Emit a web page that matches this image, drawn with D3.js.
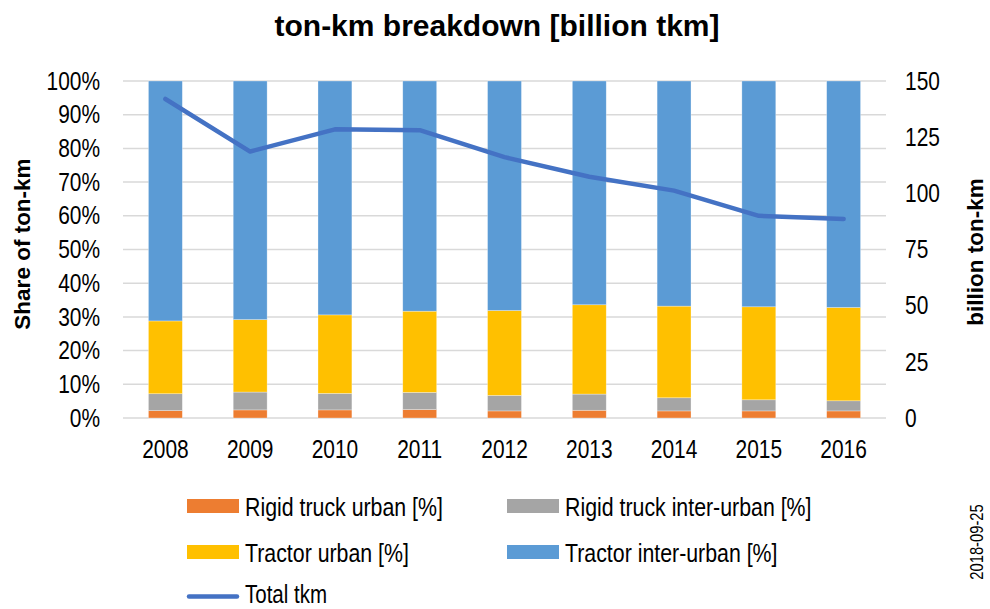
<!DOCTYPE html>
<html>
<head>
<meta charset="utf-8">
<script src="https://cdn.jsdelivr.net/npm/d3@7"></script>
<style>
  body { margin: 0; background: #fff; }
  svg text { fill: #000; }
</style>
</head>
<body>
<div id="chart"></div>
<script>
var years = ["2008", "2009", "2010", "2011", "2012", "2013", "2014", "2015", "2016"];

// shares in %
var rigidUrban      = [2.2, 2.4, 2.4, 2.5, 2.1, 2.3, 2.1, 2.1, 2.1];
var rigidInterUrban = [5.0, 5.3, 4.9, 5.1, 4.6, 4.8, 3.9, 3.3, 3.0];
var tractorUrban    = [21.6, 21.5, 23.3, 24.1, 25.2, 26.5, 27.2, 27.6, 27.7];
var tractorInter    = [71.2, 70.8, 69.4, 68.3, 68.1, 66.4, 66.8, 67.0, 67.2];

// billion tkm
var totalTkm = [142.0, 118.6, 128.5, 128.1, 116.1, 107.4, 101.2, 90.0, 88.6];

var leftTicks = [0, 10, 20, 30, 40, 50, 60, 70, 80, 90, 100];
var rightTicks = [0, 25, 50, 75, 100, 125, 150];

var seriesNames = ["Rigid truck urban [%]", "Rigid truck inter-urban [%]", "Tractor urban [%]", "Tractor inter-urban [%]"];
var seriesColors = ["#ED7D31", "#A5A5A5", "#FFC000", "#5B9BD5"];
var lineColor = "#4472C4";

var FONT = "'Liberation Sans', Arial, sans-serif";
var NARROW = 0.82; // squeeze to look like Arial Narrow

var W = 990, H = 609;
var margin = {top: 81, right: 104, bottom: 191, left: 123};
var width = W - margin.left - margin.right;
var height = H - margin.top - margin.bottom;

var svg = d3.select("#chart").append("svg")
	.attr("width", W)
	.attr("height", H)
	.style("font-family", FONT);

// compress a text selection horizontally
function narrow(sel) {
	sel.each(function() {
		var w = this.getComputedTextLength();
		d3.select(this)
			.attr("textLength", w * NARROW)
			.attr("lengthAdjust", "spacingAndGlyphs");
	});
}

var table = years.map(function(y, i) {
	return {year: y, s0: rigidUrban[i], s1: rigidInterUrban[i], s2: tractorUrban[i], s3: tractorInter[i]};
});
var stack = d3.stack().keys(["s0", "s1", "s2", "s3"]);
var layers = stack(table);

var x = d3.scaleBand().domain(years).range([0, width]).paddingInner(0.6).paddingOuter(0.3);
var yL = d3.scaleLinear().domain([0, 100]).range([height, 0]);
var yR = d3.scaleLinear().domain([0, 150]).range([height, 0]);

var g = svg.append("g").attr("transform", "translate(" + margin.left + "," + margin.top + ")");

// gridlines
g.append("g")
	.selectAll("line")
	.data(leftTicks).enter()
	.append("line")
	.attr("x1", 0).attr("x2", width)
	.attr("y1", function(d) { return yL(d); })
	.attr("y2", function(d) { return yL(d); })
	.attr("stroke", "#d9d9d9")
	.attr("stroke-width", 1.5);

// stacked bars
g.append("g")
	.selectAll("g")
	.data(layers).enter()
	.append("g")
		.attr("fill", function(d, i) { return seriesColors[i]; })
	.selectAll("rect")
	.data(function(d) { return d; }).enter()
	.append("rect")
		.attr("x", function(d) { return x(d.data.year); })
		.attr("width", x.bandwidth())
		.attr("y", function(d) { return yL(d[1]); })
		.attr("height", function(d) { return yL(d[0]) - yL(d[1]); })
		.attr("stroke", "#fff")
		.attr("stroke-opacity", 0.5)
		.attr("stroke-width", 0.6);

// total line
var line = d3.line()
	.x(function(d, i) { return x(years[i]) + x.bandwidth() / 2; })
	.y(function(d) { return yR(d); });

g.append("path")
	.datum(totalTkm)
	.attr("d", line)
	.attr("fill", "none")
	.attr("stroke", lineColor)
	.attr("stroke-width", 4.5)
	.attr("stroke-linecap", "round")
	.attr("stroke-linejoin", "round");

// axes
var axisL = g.append("g")
	.call(d3.axisLeft(yL).tickValues(leftTicks).tickFormat(function(d) { return d + "%"; }).tickSize(0).tickPadding(23));
var axisR = g.append("g")
	.attr("transform", "translate(" + width + ",0)")
	.call(d3.axisRight(yR).tickValues(rightTicks).tickSize(0).tickPadding(19));
var axisB = g.append("g")
	.attr("transform", "translate(0," + height + ")")
	.call(d3.axisBottom(x).tickSize(0).tickPadding(22));

[axisL, axisR, axisB].forEach(function(a) {
	a.select(".domain").remove();
	a.attr("font-family", FONT).attr("font-size", 25.5);
	a.selectAll("text").attr("fill", "#000").call(narrow);
});

// title
svg.append("text")
	.attr("x", 497).attr("y", 36)
	.attr("text-anchor", "middle")
	.style("font-size", "30px")
	.style("font-weight", "bold")
	.text("ton-km breakdown [billion tkm]");

// axis titles
svg.append("text")
	.attr("transform", "translate(29.5,244) rotate(-90)")
	.attr("text-anchor", "middle")
	.style("font-size", "22.5px")
	.style("font-weight", "bold")
	.text("Share of ton-km");

svg.append("text")
	.attr("transform", "translate(983,252) rotate(-90)")
	.attr("text-anchor", "middle")
	.style("font-size", "22.5px")
	.style("font-weight", "bold")
	.text("billion ton-km");

// legend
var legendPos = [[187, 506], [507, 506], [187, 552], [507, 552]];
var legend = svg.append("g");
seriesNames.forEach(function(name, i) {
	var p = legendPos[i];
	legend.append("rect")
		.attr("x", p[0]).attr("y", p[1] - 7)
		.attr("width", 52).attr("height", 14)
		.attr("fill", seriesColors[i]);
	legend.append("text")
		.attr("x", p[0] + 58).attr("y", p[1] + 9.5)
		.style("font-size", "26px")
		.text(name)
		.call(narrow);
});
legend.append("line")
	.attr("x1", 189).attr("x2", 237)
	.attr("y1", 596.5).attr("y2", 596.5)
	.attr("stroke", lineColor)
	.attr("stroke-width", 4.5)
	.attr("stroke-linecap", "round");
legend.append("text")
	.attr("x", 245).attr("y", 603)
	.style("font-size", "25px")
	.text("Total tkm")
	.call(narrow);

// date stamp
svg.append("text")
	.attr("transform", "translate(983,542) rotate(-90)")
	.attr("text-anchor", "middle")
	.style("font-size", "18px")
	.text("2018-09-25")
	.call(narrow);
</script>
</body>
</html>
